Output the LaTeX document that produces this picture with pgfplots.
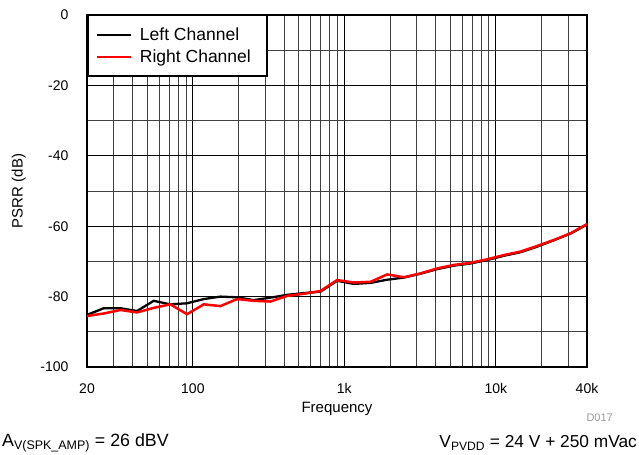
\documentclass[border=0pt]{standalone}
\usepackage{pgfplots}
\pgfplotsset{compat=1.18}
\usepackage{pgfplotstable}
\usepackage{fontspec}
\setmainfont{Liberation Sans}

\pgfplotstableread{
f      L      R
20     -85.2  -85.5
25.8   -83.3  -84.8
33.2   -83.3  -83.8
42.8   -84.1  -84.5
55.1   -81.2  -83.2
71     -82.2  -82.2
91.5   -81.9  -85.0
118    -80.7  -82.2
152    -80.0  -82.7
196    -80.2  -80.7
252    -81.0  -81.2
325    -80.3  -81.4
419    -79.5  -79.8
540    -79.0  -79.2
696    -78.6  -78.4
896    -75.5  -75.3
1155   -76.4  -76.0
1488   -76.1  -75.8
1918   -75.2  -73.7
2471   -74.6  -74.5
3184   -73.5  -73.4
4102   -72.2  -72.0
5286   -71.2  -71.0
6811   -70.6  -70.4
8776   -69.6  -69.4
11308  -68.4  -68.2
14570  -67.4  -67.2
18774  -65.8  -65.6
24190  -64.0  -63.9
31170  -62.1  -62.0
40000  -59.5  -59.4
}\psrr

\begin{document}
\begin{tikzpicture}[x=1bp,y=1bp]
\path[use as bounding box] (0,0) rectangle (639,-455);
\begin{axis}[
    at={(87bp,-15bp)}, anchor=north west,
    scale only axis, width=500bp, height=352bp,
    xmode=log, xmin=20, xmax=40000,
    ymin=-100, ymax=0,
    xtick={20,100,1000,10000,40000},
    xticklabels={20,100,1k,10k,40k},
    minor xtick={30,40,50,60,70,80,90,200,300,400,500,600,700,800,900,2000,3000,4000,5000,6000,7000,8000,9000,20000,30000},
    ytick={-100,-80,...,0},
    minor ytick={-90,-70,...,-10},
    xmajorgrids, ymajorgrids, xminorgrids, yminorgrids,
    major grid style={black, line width=0.8bp},
    minor grid style={black!75, line width=0.8bp},
    tick style={draw=none},
    axis line style={line width=2.5bp},
    /pgf/number format/assume math mode=true,
    ticklabel style={font=\fontsize{14bp}{16bp}\selectfont},
    xticklabel style={yshift=-13bp},
    yticklabel style={xshift=-15bp},
    xlabel={Frequency}, ylabel={PSRR (dB)},
    label style={font=\fontsize{15bp}{17bp}\selectfont},
    xlabel style={yshift=-2bp},
    ylabel style={yshift=8bp},
    legend cell align=left,
    legend style={at={(0,1)}, anchor=north west, draw=black, line width=1.5bp,
        font=\fontsize{17.5bp}{20bp}\selectfont, inner xsep=8bp, inner ysep=10bp,
        row sep=4bp,
        /tikz/every odd column/.append style={column sep=6bp}},
    legend image code/.code={\draw[#1, line width=2.2bp] (0bp,0bp) -- (34bp,0bp);},
]
\addplot[black, line width=2.3bp] table[x=f, y=L] {\psrr};
\addlegendentry{Left Channel}
\addplot[red, line width=2.5bp] table[x=f, y=R] {\psrr};
\addlegendentry{Right Channel\hspace*{6bp}}
\end{axis}
\node[anchor=east, text=black!40, font=\fontsize{11bp}{13bp}\selectfont, inner sep=0pt] at (613,-418) {D017};
\node[anchor=west, font=\fontsize{17.8bp}{20bp}\selectfont, inner sep=0pt] at (2,-443) {A\textsubscript{V(SPK\_AMP)} = 26 dBV};
\node[anchor=east, font=\fontsize{17.3bp}{20bp}\selectfont, inner sep=0pt] at (637,-443) {V\textsubscript{PVDD} = 24 V + 250 mVac};
\end{tikzpicture}
\end{document}
